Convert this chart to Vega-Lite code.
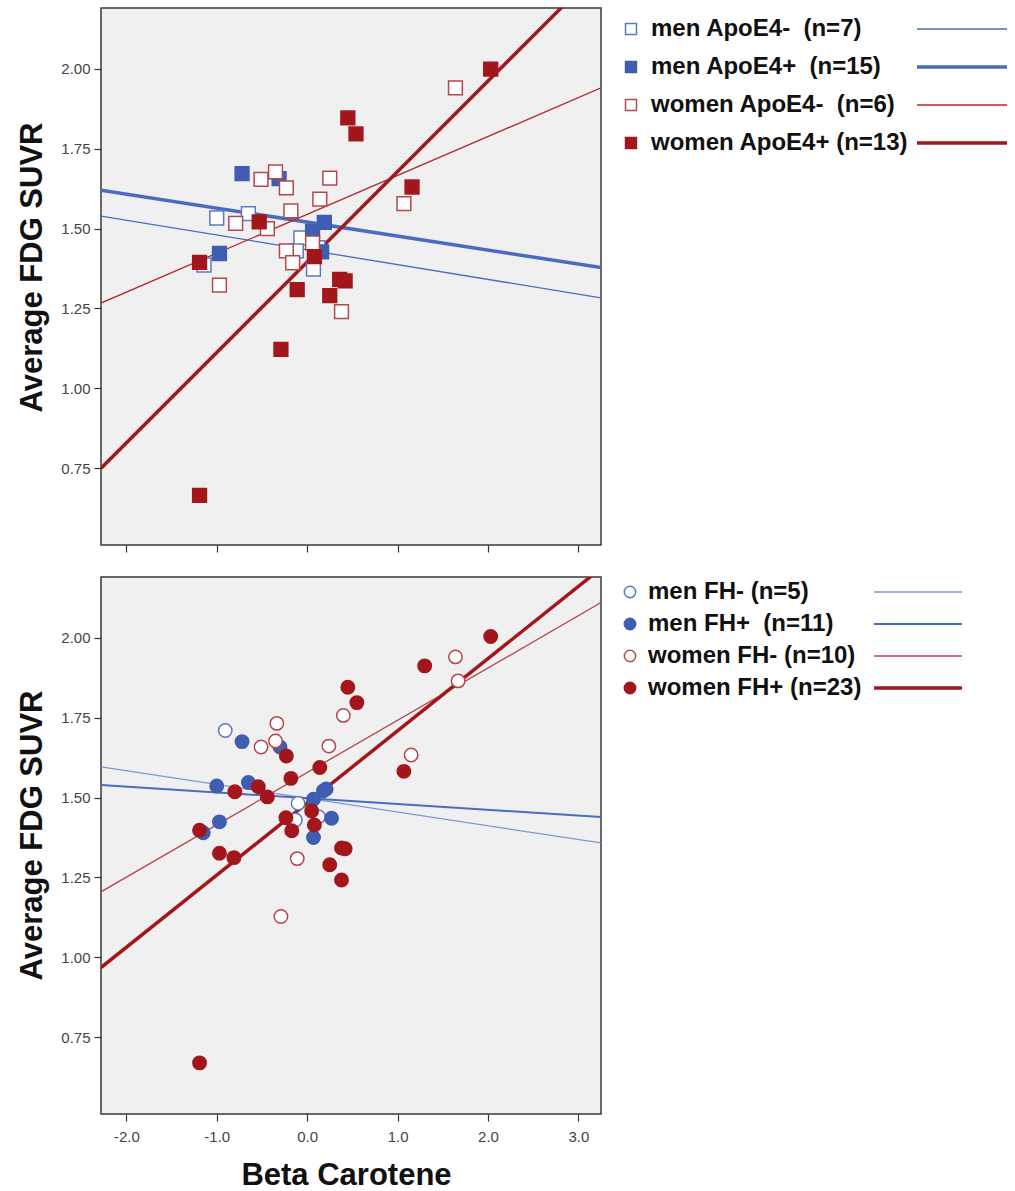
{
  "$schema": "https://vega.github.io/schema/vega-lite/v6.json",
  "padding": {"left": 16, "top": 7, "right": 0, "bottom": 0},
  "background": "white",
  "spacing": 22,
  "resolve": {
    "scale": {"stroke": "independent", "fill": "independent", "color": "independent", "strokeWidth": "independent"},
    "legend": {"stroke": "independent", "fill": "independent", "color": "independent", "strokeWidth": "independent"}
  },
  "config": {
    "font": "Liberation Sans",
    "view": {"stroke": "#3a3a3a", "strokeWidth": 1.5, "fill": "#f0f0f0"},
    "axis": {
      "grid": false, "domain": false, "tickSize": 7, "tickColor": "#333", "tickWidth": 1.2,
      "labelFont": "Liberation Sans", "labelFontSize": 15, "labelColor": "#444", "labelPadding": 4,
      "titleFont": "Liberation Sans", "titleFontSize": 31, "titleFontWeight": "bold", "titleColor": "#111"
    },
    "legend": {"padding": 0, "title": null, "labelLimit": 500}
  },
  "vconcat": [
    {
      "width": 500, "height": 537,
      "layer": [
        {
          "data": {"values": [
            {"x": -2.28, "y": 1.539, "fit": "L men ApoE4-"}, {"x": 3.25, "y": 1.283, "fit": "L men ApoE4-"},
            {"x": -2.28, "y": 1.620, "fit": "L men ApoE4+"}, {"x": 3.25, "y": 1.378, "fit": "L men ApoE4+"},
            {"x": -2.28, "y": 1.267, "fit": "L women ApoE4-"}, {"x": 3.25, "y": 1.940, "fit": "L women ApoE4-"},
            {"x": -2.28, "y": 0.750, "fit": "L women ApoE4+"}, {"x": 3.25, "y": 2.315, "fit": "L women ApoE4+"}
          ]},
          "mark": {"type": "line", "clip": true},
          "encoding": {
            "x": {"field": "x", "type": "quantitative", "scale": {"domain": [-2.28, 3.25], "nice": false, "zero": false},
                  "axis": {"values": [-2, -1, 0, 1, 2, 3], "labels": false, "title": null}},
            "y": {"field": "y", "type": "quantitative", "scale": {"domain": [0.51, 2.19], "nice": false, "zero": false},
                  "axis": {"values": [0.75, 1, 1.25, 1.5, 1.75, 2], "format": ".2f", "title": "Average FDG SUVR", "titlePadding": 12, "titleY": 259}},
            "color": {"field": "fit", "type": "nominal",
              "scale": {"domain": ["L men ApoE4-", "L men ApoE4+", "L women ApoE4-", "L women ApoE4+"], "range": ["#4a6cbe", "#4a6cbe", "#b32a2e", "#a3161c"]},
              "legend": {"orient": "none", "legendX": 849, "legendY": 9, "symbolType": "M -9 0 L 9 0", "symbolSize": 100, "labelOpacity": 0, "labelExpr": "'.'", "labelFontSize": 24, "rowPadding": 14}},
            "strokeWidth": {"field": "fit", "type": "nominal",
              "scale": {"type": "ordinal", "domain": ["L men ApoE4-", "L men ApoE4+", "L women ApoE4-", "L women ApoE4+"], "range": [1.3, 3.5, 1.3, 3.5]},
              "legend": {"orient": "none", "legendX": 849, "legendY": 9, "symbolType": "M -9 0 L 9 0", "symbolSize": 100, "labelOpacity": 0, "labelExpr": "'.'", "labelFontSize": 24, "rowPadding": 14}}
          }
        },
        {
          "data": {"values": [
            {"x": -1.0, "y": 1.533, "group": "men ApoE4-  (n=7)"},
            {"x": -0.65, "y": 1.547, "group": "men ApoE4-  (n=7)"},
            {"x": -0.07, "y": 1.471, "group": "men ApoE4-  (n=7)"},
            {"x": -0.12, "y": 1.43, "group": "men ApoE4-  (n=7)"},
            {"x": 0.07, "y": 1.373, "group": "men ApoE4-  (n=7)"},
            {"x": -1.14, "y": 1.386, "group": "men ApoE4-  (n=7)"},
            {"x": 0.12, "y": 1.44, "group": "men ApoE4-  (n=7)"},
            {"x": -0.72, "y": 1.672, "group": "men ApoE4+  (n=15)"},
            {"x": -0.31, "y": 1.656, "group": "men ApoE4+  (n=15)"},
            {"x": 0.19, "y": 1.519, "group": "men ApoE4+  (n=15)"},
            {"x": 0.06, "y": 1.49, "group": "men ApoE4+  (n=15)"},
            {"x": -0.97, "y": 1.422, "group": "men ApoE4+  (n=15)"},
            {"x": 0.16, "y": 1.427, "group": "men ApoE4+  (n=15)"},
            {"x": -0.51, "y": 1.654, "group": "women ApoE4-  (n=6)"},
            {"x": -0.35, "y": 1.677, "group": "women ApoE4-  (n=6)"},
            {"x": -0.23, "y": 1.627, "group": "women ApoE4-  (n=6)"},
            {"x": 0.25, "y": 1.658, "group": "women ApoE4-  (n=6)"},
            {"x": 0.14, "y": 1.592, "group": "women ApoE4-  (n=6)"},
            {"x": -0.18, "y": 1.555, "group": "women ApoE4-  (n=6)"},
            {"x": -0.79, "y": 1.516, "group": "women ApoE4-  (n=6)"},
            {"x": -0.44, "y": 1.50, "group": "women ApoE4-  (n=6)"},
            {"x": 0.06, "y": 1.455, "group": "women ApoE4-  (n=6)"},
            {"x": -0.23, "y": 1.43, "group": "women ApoE4-  (n=6)"},
            {"x": -0.16, "y": 1.393, "group": "women ApoE4-  (n=6)"},
            {"x": -0.97, "y": 1.323, "group": "women ApoE4-  (n=6)"},
            {"x": 1.07, "y": 1.578, "group": "women ApoE4-  (n=6)"},
            {"x": 1.64, "y": 1.94, "group": "women ApoE4-  (n=6)"},
            {"x": 0.38, "y": 1.24, "group": "women ApoE4-  (n=6)"},
            {"x": -0.53, "y": 1.521, "group": "women ApoE4+ (n=13)"},
            {"x": -1.19, "y": 1.394, "group": "women ApoE4+ (n=13)"},
            {"x": 0.08, "y": 1.412, "group": "women ApoE4+ (n=13)"},
            {"x": -0.11, "y": 1.309, "group": "women ApoE4+ (n=13)"},
            {"x": 0.36, "y": 1.341, "group": "women ApoE4+ (n=13)"},
            {"x": 0.42, "y": 1.336, "group": "women ApoE4+ (n=13)"},
            {"x": 0.25, "y": 1.29, "group": "women ApoE4+ (n=13)"},
            {"x": -0.29, "y": 1.122, "group": "women ApoE4+ (n=13)"},
            {"x": -1.19, "y": 0.665, "group": "women ApoE4+ (n=13)"},
            {"x": 0.45, "y": 1.846, "group": "women ApoE4+ (n=13)"},
            {"x": 0.54, "y": 1.796, "group": "women ApoE4+ (n=13)"},
            {"x": 1.16, "y": 1.63, "group": "women ApoE4+ (n=13)"},
            {"x": 2.03, "y": 1.999, "group": "women ApoE4+ (n=13)"}
          ]},
          "mark": {"type": "point", "shape": "square", "size": 190, "strokeWidth": 1.5, "opacity": 1},
          "encoding": {
            "x": {"field": "x", "type": "quantitative"},
            "y": {"field": "y", "type": "quantitative"},
            "stroke": {"field": "group", "type": "nominal",
              "scale": {"domain": ["men ApoE4-  (n=7)", "men ApoE4+  (n=15)", "women ApoE4-  (n=6)", "women ApoE4+ (n=13)"], "range": ["#5a78c6", "#3f5db1", "#b5474d", "#a3171c"]},
              "legend": {"orient": "none", "legendX": 518, "legendY": 9, "labelFontSize": 24, "labelFontWeight": "bold", "labelColor": "#111", "symbolSize": 120, "symbolStrokeWidth": 1.5, "rowPadding": 14, "labelOffset": 8,
                "labelExpr": "replace(datum.label, '  ', '\u00a0 ')"}},
            "fill": {"field": "group", "type": "nominal",
              "scale": {"domain": ["men ApoE4-  (n=7)", "men ApoE4+  (n=15)", "women ApoE4-  (n=6)", "women ApoE4+ (n=13)"], "range": ["#ffffff", "#3f5db1", "#ffffff", "#a3171c"]},
              "legend": {"orient": "none", "legendX": 518, "legendY": 9, "labelFontSize": 24, "labelFontWeight": "bold", "labelColor": "#111", "symbolSize": 120, "symbolStrokeWidth": 1.5, "rowPadding": 14, "labelOffset": 8,
                "labelExpr": "replace(datum.label, '  ', '\u00a0 ')"}}
          }
        }
      ]
    },
    {
      "width": 500, "height": 537,
      "layer": [
        {
          "data": {"values": [
            {"x": -2.28, "y": 1.596, "fit": "L men FH-"}, {"x": 3.25, "y": 1.358, "fit": "L men FH-"},
            {"x": -2.28, "y": 1.539, "fit": "L men FH+"}, {"x": 3.25, "y": 1.439, "fit": "L men FH+"},
            {"x": -2.28, "y": 1.205, "fit": "L women FH-"}, {"x": 3.25, "y": 2.110, "fit": "L women FH-"},
            {"x": -2.28, "y": 0.968, "fit": "L women FH+"}, {"x": 3.25, "y": 2.217, "fit": "L women FH+"}
          ]},
          "mark": {"type": "line", "clip": true},
          "encoding": {
            "x": {"field": "x", "type": "quantitative", "scale": {"domain": [-2.28, 3.25], "nice": false, "zero": false},
                  "axis": {"values": [-2, -1, 0, 1, 2, 3], "labelExpr": "datum.value < 0 ? '-' + format(-datum.value, '.1f') : format(datum.value, '.1f')", "labelPadding": 8, "title": "Beta Carotene", "titlePadding": 16, "titleX": 245}},
            "y": {"field": "y", "type": "quantitative", "scale": {"domain": [0.51, 2.19], "nice": false, "zero": false},
                  "axis": {"values": [0.75, 1, 1.25, 1.5, 1.75, 2], "format": ".2f", "title": "Average FDG SUVR", "titlePadding": 12, "titleY": 258}},
            "color": {"field": "fit", "type": "nominal",
              "scale": {"domain": ["L men FH-", "L men FH+", "L women FH-", "L women FH+"], "range": ["#7d98d2", "#4a6cbe", "#b9434a", "#a3161c"]},
              "legend": {"orient": "none", "legendX": 805, "legendY": 3, "symbolType": "M -8.8 0 L 8.8 0", "symbolSize": 100, "labelOpacity": 0, "labelExpr": "'.'", "labelFontSize": 24, "rowPadding": 8}},
            "strokeWidth": {"field": "fit", "type": "nominal",
              "scale": {"type": "ordinal", "domain": ["L men FH-", "L men FH+", "L women FH-", "L women FH+"], "range": [1.3, 2, 1.3, 3.5]},
              "legend": {"orient": "none", "legendX": 805, "legendY": 3, "symbolType": "M -8.8 0 L 8.8 0", "symbolSize": 100, "labelOpacity": 0, "labelExpr": "'.'", "labelFontSize": 24, "rowPadding": 8}}
          }
        },
        {
          "data": {"values": [
            {"x": -0.906, "y": 1.71, "group": "men FH- (n=5)"},
            {"x": -0.10, "y": 1.482, "group": "men FH- (n=5)"},
            {"x": -0.13, "y": 1.43, "group": "men FH- (n=5)"},
            {"x": 0.125, "y": 1.44, "group": "men FH- (n=5)"},
            {"x": -0.72, "y": 1.675, "group": "men FH+  (n=11)"},
            {"x": -0.30, "y": 1.658, "group": "men FH+  (n=11)"},
            {"x": -1.0, "y": 1.536, "group": "men FH+  (n=11)"},
            {"x": -0.65, "y": 1.547, "group": "men FH+  (n=11)"},
            {"x": 0.18, "y": 1.521, "group": "men FH+  (n=11)"},
            {"x": 0.21, "y": 1.527, "group": "men FH+  (n=11)"},
            {"x": 0.07, "y": 1.495, "group": "men FH+  (n=11)"},
            {"x": -0.97, "y": 1.424, "group": "men FH+  (n=11)"},
            {"x": 0.27, "y": 1.435, "group": "men FH+  (n=11)"},
            {"x": 0.07, "y": 1.375, "group": "men FH+  (n=11)"},
            {"x": -1.15, "y": 1.39, "group": "men FH+  (n=11)"},
            {"x": -0.335, "y": 1.732, "group": "women FH- (n=10)"},
            {"x": -0.35, "y": 1.677, "group": "women FH- (n=10)"},
            {"x": -0.51, "y": 1.658, "group": "women FH- (n=10)"},
            {"x": 0.40, "y": 1.757, "group": "women FH- (n=10)"},
            {"x": 0.24, "y": 1.661, "group": "women FH- (n=10)"},
            {"x": -0.11, "y": 1.309, "group": "women FH- (n=10)"},
            {"x": -0.29, "y": 1.128, "group": "women FH- (n=10)"},
            {"x": 1.64, "y": 1.94, "group": "women FH- (n=10)"},
            {"x": 1.67, "y": 1.865, "group": "women FH- (n=10)"},
            {"x": 1.15, "y": 1.633, "group": "women FH- (n=10)"},
            {"x": 0.55, "y": 1.797, "group": "women FH+ (n=23)"},
            {"x": -0.23, "y": 1.63, "group": "women FH+ (n=23)"},
            {"x": 0.14, "y": 1.594, "group": "women FH+ (n=23)"},
            {"x": -0.18, "y": 1.56, "group": "women FH+ (n=23)"},
            {"x": -0.80, "y": 1.518, "group": "women FH+ (n=23)"},
            {"x": -0.54, "y": 1.534, "group": "women FH+ (n=23)"},
            {"x": -0.44, "y": 1.502, "group": "women FH+ (n=23)"},
            {"x": -1.19, "y": 1.398, "group": "women FH+ (n=23)"},
            {"x": -0.235, "y": 1.437, "group": "women FH+ (n=23)"},
            {"x": 0.05, "y": 1.458, "group": "women FH+ (n=23)"},
            {"x": 0.08, "y": 1.414, "group": "women FH+ (n=23)"},
            {"x": -0.17, "y": 1.396, "group": "women FH+ (n=23)"},
            {"x": -0.97, "y": 1.326, "group": "women FH+ (n=23)"},
            {"x": -0.81, "y": 1.312, "group": "women FH+ (n=23)"},
            {"x": 0.38, "y": 1.342, "group": "women FH+ (n=23)"},
            {"x": 0.42, "y": 1.34, "group": "women FH+ (n=23)"},
            {"x": 0.25, "y": 1.29, "group": "women FH+ (n=23)"},
            {"x": 0.38, "y": 1.242, "group": "women FH+ (n=23)"},
            {"x": -1.19, "y": 0.67, "group": "women FH+ (n=23)"},
            {"x": 0.45, "y": 1.845, "group": "women FH+ (n=23)"},
            {"x": 1.30, "y": 1.912, "group": "women FH+ (n=23)"},
            {"x": 1.07, "y": 1.582, "group": "women FH+ (n=23)"},
            {"x": 2.03, "y": 2.004, "group": "women FH+ (n=23)"}
          ]},
          "mark": {"type": "point", "shape": "circle", "size": 180, "strokeWidth": 1.5, "opacity": 1},
          "encoding": {
            "x": {"field": "x", "type": "quantitative"},
            "y": {"field": "y", "type": "quantitative"},
            "stroke": {"field": "group", "type": "nominal",
              "scale": {"domain": ["men FH- (n=5)", "men FH+  (n=11)", "women FH- (n=10)", "women FH+ (n=23)"], "range": ["#5a78c6", "#3f5db1", "#b5474d", "#a3171c"]},
              "legend": {"orient": "none", "legendX": 517, "legendY": 3, "labelFontSize": 24, "labelFontWeight": "bold", "labelColor": "#111", "symbolSize": 130, "symbolStrokeWidth": 1.5, "rowPadding": 8, "labelOffset": 6,
                "labelExpr": "replace(datum.label, '  ', '\u00a0 ')"}},
            "fill": {"field": "group", "type": "nominal",
              "scale": {"domain": ["men FH- (n=5)", "men FH+  (n=11)", "women FH- (n=10)", "women FH+ (n=23)"], "range": ["#ffffff", "#3f5db1", "#ffffff", "#a3171c"]},
              "legend": {"orient": "none", "legendX": 517, "legendY": 3, "labelFontSize": 24, "labelFontWeight": "bold", "labelColor": "#111", "symbolSize": 130, "symbolStrokeWidth": 1.5, "rowPadding": 8, "labelOffset": 6,
                "labelExpr": "replace(datum.label, '  ', '\u00a0 ')"}}
          }
        }
      ]
    }
  ]
}
